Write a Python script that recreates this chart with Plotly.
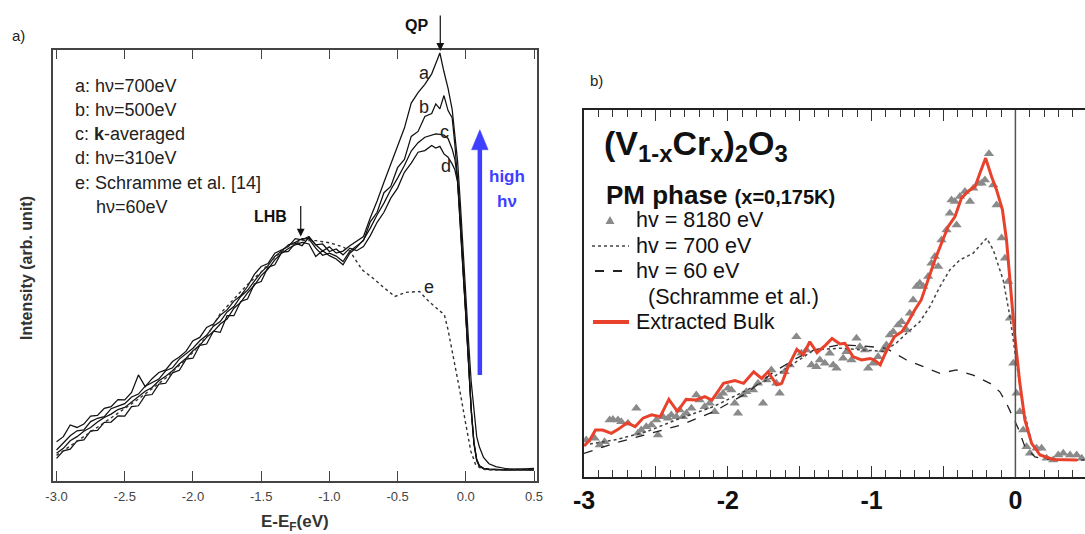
import plotly.graph_objects as go

W, H = 1085, 534

# ---------------- panel a) data ----------------
E_A = [-3.00, -2.95, -2.90, -2.85, -2.80, -2.75, -2.70, -2.65, -2.60, -2.55,
       -2.50, -2.45, -2.40, -2.35, -2.30, -2.25, -2.20, -2.15, -2.10, -2.05,
       -2.00, -1.95, -1.90, -1.85, -1.80, -1.75, -1.70, -1.65, -1.60, -1.55,
       -1.50, -1.45, -1.40, -1.35, -1.30, -1.25, -1.20, -1.15, -1.10, -1.05,
       -1.00, -0.95, -0.90, -0.85, -0.80,
       -0.75, -0.70, -0.65, -0.60, -0.55, -0.50, -0.45, -0.40, -0.35, -0.30,
       -0.25, -0.22, -0.19, -0.16, -0.13, -0.10, -0.08, -0.06, -0.04, -0.02,
       0.00, 0.02, 0.04, 0.06, 0.08, 0.10, 0.13, 0.17, 0.22, 0.30, 0.40, 0.50]

CURVE_A = [6.8, 8.0, 10.8, 10.2, 11.0, 12.9, 13.1, 14.8, 15.2, 16.9,
           16.8, 18.6, 22.8, 20.0, 21.9, 23.4, 24.0, 26.0, 27.1, 28.5,
           31.0, 31.8, 34.2, 35.0, 37.1, 38.4, 40.5, 41.8, 44.0, 46.9,
           48.8, 49.5, 52.0, 52.8, 53.6, 55.5, 55.2, 56.0, 54.0, 52.5,
           53.5, 52.0, 52.5, 53.8, 55.0,
           56.0, 60.5, 64.5, 69.0, 73.5, 77.5, 82.0, 88.0, 90.5, 92.5,
           95.0, 97.5, 100.0, 95.5, 91.5, 86.5, 81.0, 74.0, 64.0, 52.0,
           41.0, 31.0, 21.0, 13.5, 8.0, 5.5, 3.0, 1.5, 0.8, 0.3, 0.2, 0.4]

CURVE_B = [4.8, 6.6, 8.2, 9.4, 9.6, 11.6, 12.4, 12.8, 14.7, 15.3,
           15.9, 17.5, 18.2, 20.1, 21.0, 21.8, 23.8, 24.5, 26.6, 27.9,
           29.2, 31.0, 32.3, 34.5, 35.6, 37.9, 39.2, 41.6, 43.1, 45.3,
           47.4, 49.0, 51.2, 52.5, 54.0, 54.6, 55.5, 55.4, 53.2, 51.5,
           52.0, 51.3, 50.0, 52.5, 53.8,
           55.0, 59.5, 61.8, 66.5, 68.0, 72.5, 74.5, 80.0, 81.2, 84.8,
           85.5, 87.8, 86.6, 89.8, 86.2, 84.5, 78.0, 69.5, 60.0, 48.0,
           37.6, 25.5, 14.5, 6.5, 2.5, 1.0, 0.4, 0.2, 0.1, 0.0, 0.1, 0.0]

CURVE_C = [4.0, 5.2, 7.0, 8.0, 9.3, 10.2, 11.5, 12.6, 13.4, 14.5,
           15.0, 16.3, 17.4, 18.9, 19.8, 21.4, 22.5, 23.8, 25.4, 26.8,
           28.6, 29.9, 31.8, 33.2, 35.0, 36.2, 38.8, 40.2, 42.5, 44.3,
           46.6, 48.2, 50.4, 52.0, 53.1, 54.0, 54.6, 54.2, 51.2, 52.6,
           51.4, 50.6, 49.2, 52.0, 53.4,
           55.2, 58.0, 61.2, 64.0, 67.2, 70.0, 73.0, 76.5, 78.5, 79.8,
           80.3, 80.6, 80.5, 80.3, 79.5, 77.0, 74.5, 69.5, 60.0, 48.0,
           37.6, 25.5, 14.5, 6.5, 2.5, 1.0, 0.4, 0.2, 0.1, 0.0, 0.1, 0.0]

CURVE_D = [2.8, 4.6, 5.0, 7.0, 7.2, 9.4, 9.5, 11.4, 11.5, 13.0,
           12.9, 15.2, 15.4, 17.9, 18.1, 20.6, 20.8, 23.3, 23.9, 26.6,
           26.8, 29.9, 30.2, 33.3, 33.0, 37.0, 37.0, 40.4, 41.0, 44.6,
           45.2, 48.6, 49.2, 52.2, 52.4, 54.4, 53.8, 55.8, 54.0, 54.2,
           52.4, 53.0, 51.6, 53.2, 52.6,
           53.6, 56.2, 59.4, 61.8, 65.2, 67.6, 71.4, 73.6, 76.2, 76.6,
           77.8, 77.2, 77.6, 75.8, 75.0, 73.4, 72.0, 69.0, 59.5, 47.5,
           37.0, 25.0, 14.0, 6.2, 2.2, 0.8, 0.3, 0.1, 0.0, 0.0, 0.2, 0.0]

E_E = [-3.0, -2.8, -2.6, -2.4, -2.2, -2.0, -1.9, -1.8, -1.7, -1.6, -1.5, -1.4,
       -1.3, -1.2, -1.1, -1.0, -0.9, -0.85, -0.76, -0.68, -0.61, -0.52, -0.44,
       -0.34, -0.27, -0.2, -0.157, -0.13, -0.09, -0.04, 0.0, 0.037, 0.073,
       0.12, 0.2, 0.5]
CURVE_E = [3.5, 8.0, 12.5, 17.0, 22.0, 28.2, 32.0, 37.5, 41.0, 44.5, 47.5, 51.0,
           53.8, 55.0, 55.0, 54.5, 53.5, 52.5, 48.0, 46.0, 44.0, 41.6, 42.6,
           42.8, 40.4, 38.5, 37.2, 33.6, 27.2, 18.4, 11.0, 4.5, 1.2,
           0.2, 0.0, 0.0]

TICKS_A = [-3.0, -2.5, -2.0, -1.5, -1.0, -0.5, 0.0, 0.5]
TICKTEXT_A = ["-3.0", "-2.5", "-2.0", "-1.5", "-1.0", "-0.5", "0.0", "0.5"]
LEGEND_A = ["a: hν=700eV", "b: hν=500eV", "c: <b>k</b>-averaged", "d: hν=310eV",
            "e: Schramme et al. [14]"]

# ---------------- panel b) data ----------------
RED_E = [-3.00, -2.96, -2.92, -2.87, -2.81, -2.76, -2.70, -2.645, -2.59, -2.53,
         -2.47, -2.41, -2.35, -2.29, -2.22, -2.16, -2.11, -2.03, -1.95, -1.89,
         -1.82, -1.765, -1.72, -1.66, -1.625, -1.58, -1.52, -1.475, -1.43, -1.38,
         -1.32, -1.275, -1.22, -1.186, -1.13, -1.07, -1.01, -0.98, -0.94, -0.90,
         -0.84, -0.79, -0.745, -0.70, -0.655, -0.607, -0.56, -0.514, -0.468, -0.42,
         -0.375, -0.33, -0.28, -0.247, -0.207, -0.166, -0.131, -0.09, -0.062, -0.034,
         -0.004, 0.031, 0.066, 0.113, 0.171, 0.264, 0.43]
RED_V = [4.6, 6.6, 9.9, 9.9, 8.8, 10.2, 12.3, 11.0, 13.8, 14.9,
         14.3, 20.0, 16.0, 20.0, 19.8, 20.9, 19.8, 25.3, 26.2, 25.3,
         29.1, 26.9, 29.1, 24.8, 25.3, 30.8, 36.5, 34.7, 39.0, 35.4,
         37.9, 40.1, 38.3, 38.5, 34.1, 33.0, 33.5, 33.0, 31.4, 35.7,
         40.7, 42.3, 45.6, 49.5, 52.8, 59.4, 66.0, 71.5, 77.0, 80.3,
         86.4, 88.6, 90.2, 94.6, 99.6, 93.5, 89.1, 82.5, 72.6, 57.2,
         40.7, 25.3, 13.2, 5.5, 1.65, 0.2, 0.0]

DOT_E = [-3.00, -2.79, -2.56, -2.33, -2.10, -1.87, -1.68, -1.52, -1.40, -1.22,
         -1.08, -0.92, -0.83, -0.757, -0.665, -0.595, -0.525, -0.456, -0.386, -0.294,
         -0.2, -0.154, -0.085, -0.038, 0.008, 0.054, 0.113, 0.194, 0.30, 0.48]
DOT_V = [5.0, 6.6, 9.4, 13.8, 17.6, 23.1, 27.5, 32.5, 36.3, 36.9,
         36.3, 35.8, 38.5, 41.8, 45.6, 50.6, 57.2, 62.7, 66.0, 68.2,
         73.2, 69.3, 59.4, 47.3, 31.9, 17.6, 5.5, 0.9, 0.1, 0.0]

DASH_E = [-3.00, -2.79, -2.56, -2.33, -2.10, -1.87, -1.68, -1.52, -1.40, -1.22,
          -1.08, -0.90, -0.757, -0.642, -0.525, -0.41, -0.294, -0.177, -0.108, -0.062,
          -0.016, 0.019, 0.066, 0.136, 0.217, 0.48]
DASH_V = [2.2, 5.5, 8.5, 11.5, 15.9, 22.0, 29.1, 33.6, 36.3, 38.0,
          37.7, 36.9, 33.0, 30.8, 28.6, 29.7, 28.0, 25.3, 22.5, 18.7,
          14.3, 10.5, 4.4, 1.0, 0.3, 0.0]

TRI_E = [-2.984, -2.926, -2.891, -2.857, -2.822, -2.799, -2.764, -2.741, -2.694, -2.636,
         -2.625, -2.602, -2.567, -2.532, -2.497, -2.486, -2.451, -2.416, -2.393, -2.358,
         -2.335, -2.312, -2.288, -2.253, -2.219, -2.196, -2.161, -2.126, -2.091, -2.056,
         -2.033, -1.998, -1.975, -1.952, -1.929, -1.894, -1.871, -1.824, -1.790, -1.755,
         -1.731, -1.697, -1.662, -1.639, -1.604, -1.569, -1.523, -1.488, -1.453, -1.418,
         -1.384, -1.360, -1.325, -1.291, -1.267, -1.244,
         -1.198, -1.175, -1.140, -1.105, -1.082, -1.047, -1.024, -0.989, -0.955, -0.920,
         -0.897, -0.873, -0.850, -0.815, -0.792, -0.757, -0.734, -0.711, -0.687, -0.665,
         -0.641, -0.607, -0.584, -0.560, -0.537, -0.514, -0.479, -0.456, -0.444, -0.421,
         -0.409, -0.386, -0.351, -0.316, -0.293, -0.258, -0.235, -0.212, -0.184, -0.154,
         -0.131, -0.096, -0.073, -0.050, -0.038, -0.015, 0.008, 0.031, 0.054, 0.077,
         0.101, 0.147, 0.182, 0.217, 0.263, 0.298, 0.333, 0.380, 0.426, 0.461]
TRI_V = [6.6, 7.2, 4.95, 6.05, 13.2, 13.4, 13.2, 12.65, 12.1, 17.05,
         8.8, 9.9, 11.0, 11.55, 13.2, 8.25, 14.3, 13.75, 14.85, 14.3,
         16.5, 14.3, 15.4, 17.05, 21.45, 19.8, 17.6, 18.7, 15.95, 20.9,
         22.0, 23.65, 23.1, 18.7, 15.4, 21.45, 22.55, 23.1, 25.3, 18.7,
         26.4, 29.7, 25.3, 22.0, 29.15, 31.35, 40.7, 35.2, 36.3, 31.35,
         30.8, 33.0, 31.9, 35.2, 31.35, 30.25,
         33.55, 35.75, 33.0, 40.15, 37.4, 36.3, 30.25, 31.9, 34.1, 36.3,
         37.95, 41.25, 42.35, 44.55, 45.65, 42.9, 48.4, 52.8, 57.2, 58.3,
         57.2, 60.5, 64.9, 67.1, 63.8, 72.6, 75.9, 81.4, 85.8, 85.25,
         77.55, 86.9, 88.55, 85.25, 89.65, 91.3, 91.3, 92.4, 101.0, 90.75,
         84.15, 73.2, 66.55, 58.85, 46.75, 31.9, 22.0, 15.95, 9.9, 4.4,
         2.2, 3.85, 3.85, 0.55, 0.0, 1.65, 2.2, 1.65, 1.65, 0.55]

TICKS_B = [-3.0, -2.5, -2.0, -1.5, -1.0, -0.5, 0.0]
TICKTEXT_B = ["-3", "", "-2", "", "-1", "", "0"]
LEGEND_B = ["hv = 8180 eV", "hv = 700 eV", "hv = 60 eV", "(Schramme et al.)", "Extracted Bulk"]

FONT = "Liberation Sans, Arial, Helvetica, sans-serif"
RED = "#e8412c"
BLUE = "#3f3fff"


def pxx(px):
    return px / W


def pxy(py):
    return 1 - py / H


def ptext(text, px, py, size, color="#222", xanchor="center", yanchor="middle", **kw):
    return dict(text=text, x=pxx(px), y=pxy(py), xref="paper", yref="paper",
                xanchor=xanchor, yanchor=yanchor, showarrow=False,
                font=dict(size=size, color=color), **kw)


fig = go.Figure()

# panel a traces
for name, ys in [("a", CURVE_A), ("b", CURVE_B), ("c", CURVE_C), ("d", CURVE_D)]:
    fig.add_trace(go.Scatter(x=E_A, y=ys, mode="lines", name=name,
                             line=dict(color="#111111", width=1.25),
                             xaxis="x", yaxis="y", showlegend=False))
fig.add_trace(go.Scatter(x=E_E, y=CURVE_E, mode="lines", name="e",
                         line=dict(color="#333333", width=1.4, dash="dot"),
                         xaxis="x", yaxis="y", showlegend=False))

# panel b traces
fig.add_trace(go.Scatter(x=TRI_E, y=TRI_V, mode="markers", name=LEGEND_B[0],
                         marker=dict(symbol="triangle-up", size=9, color="#8a8a8a"),
                         xaxis="x2", yaxis="y2", showlegend=False))
fig.add_trace(go.Scatter(x=DASH_E, y=DASH_V, mode="lines", name=LEGEND_B[2],
                         line=dict(color="#222222", width=1.3, dash="dash"),
                         xaxis="x2", yaxis="y2", showlegend=False))
fig.add_trace(go.Scatter(x=DOT_E, y=DOT_V, mode="lines", name=LEGEND_B[1],
                         line=dict(color="#444444", width=1.5, dash="dot"),
                         xaxis="x2", yaxis="y2", showlegend=False))
fig.add_trace(go.Scatter(x=RED_E, y=RED_V, mode="lines", name=LEGEND_B[4],
                         line=dict(color=RED, width=3),
                         xaxis="x2", yaxis="y2", showlegend=False))

ann = []
shapes = []

# ---- panel a annotations ----
ann.append(ptext("a)", 10, 36, 15, xanchor="left"))
leg_y = [86, 110, 134, 158, 182.5]
for t, yy in zip(LEGEND_A, leg_y):
    ann.append(ptext(t, 73, yy, 18, xanchor="left"))
ann.append(ptext("hν=60eV", 94, 206.6, 18, xanchor="left"))
for lab, xx, yy in [("a", -0.304, 95.1), ("b", -0.304, 87.1), ("c", -0.158, 81.1),
                    ("d", -0.145, 72.9), ("e", -0.268, 43.8)]:
    ann.append(dict(text=lab, x=xx, y=yy, xref="x", yref="y", showarrow=False,
                    xanchor="center", yanchor="middle",
                    font=dict(size=18, color="#222")))
# QP
ann.append(ptext("<b>QP</b>", 416.7, 25.8, 16, color="#111"))
ann.append(dict(text="", x=-0.187, y=100.5, xref="x", yref="y", ax=0, ay=-37,
                showarrow=True, arrowhead=2, arrowsize=1.3, arrowwidth=1.2, arrowcolor="#111"))
# LHB
ann.append(ptext("<b>LHB</b>", 270.3, 216.3, 16, color="#111"))
ann.append(dict(text="", x=-1.21, y=56.0, xref="x", yref="y", ax=0, ay=-32,
                showarrow=True, arrowhead=2, arrowsize=1.3, arrowwidth=1.2, arrowcolor="#111"))
# high hv
ann.append(ptext("<b>high</b>", 506.7, 176.7, 17, color=BLUE))
ann.append(ptext("<b>hν</b>", 506.7, 201.7, 17, color=BLUE))
shapes.append(dict(type="line", xref="x", yref="y", x0=0.103, x1=0.103, y0=22.8, y1=77.5,
                   line=dict(color=BLUE, width=4.5)))
shapes.append(dict(type="path", xref="x", yref="y",
                   path="M 0.042,76.8 L 0.164,76.8 L 0.103,81.6 Z",
                   fillcolor=BLUE, line=dict(color=BLUE, width=0.5)))
# axis titles a
ann.append(ptext("<b>E-E<sub>F</sub>(eV)</b>", 295, 510, 17, color="#333", yanchor="top"))
ann.append(ptext("<b>Intensity (arb. unit)</b>", 26, 268, 16, color="#333", textangle=-90))

# ---- panel b annotations ----
ann.append(ptext("b)", 588, 80, 15, xanchor="left"))
ann.append(ptext("<b>(V<sub>1-x</sub>Cr<sub>x</sub>)<sub>2</sub>O<sub>3</sub></b>",
                 602, 122, 34, color="#111", xanchor="left", yanchor="top"))
ann.append(ptext("<b>PM phase <span style='font-size:20px'>(x=0,175K)</span></b>",
                 604, 195, 26, color="#111", xanchor="left"))
leg_b_y = [220, 246, 271, 296.5, 322]
leg_b_x = [634, 634, 634, 646, 634]
for t, xx, yy in zip(LEGEND_B, leg_b_x, leg_b_y):
    ann.append(ptext(t, xx, yy, 21.5, color="#111", xanchor="left"))
# legend symbols
shapes.append(dict(type="path", xref="paper", yref="paper",
                   path=f"M {pxx(605.5)},{pxy(224)} L {pxx(614.5)},{pxy(224)} L {pxx(610)},{pxy(216)} Z",
                   fillcolor="#8a8a8a", line=dict(width=0)))
shapes.append(dict(type="line", xref="paper", yref="paper", x0=pxx(592), x1=pxx(629),
                   y0=pxy(246), y1=pxy(246), line=dict(color="#444", width=1.5, dash="dot")))
shapes.append(dict(type="line", xref="paper", yref="paper", x0=pxx(595), x1=pxx(627),
                   y0=pxy(271), y1=pxy(271), line=dict(color="#222", width=2, dash="dash")))
shapes.append(dict(type="line", xref="paper", yref="paper", x0=pxx(593), x1=pxx(629),
                   y0=pxy(322), y1=pxy(322), line=dict(color=RED, width=4)))
# zero line
shapes.append(dict(type="line", xref="x2", yref="y2 domain", x0=0, x1=0, y0=0, y1=1,
                   line=dict(color="#555", width=1.5)))

fig.update_layout(
    width=W, height=H, autosize=False,
    margin=dict(l=0, r=0, t=0, b=0, autoexpand=False),
    paper_bgcolor="white", plot_bgcolor="white",
    font=dict(family=FONT),
    showlegend=False,
    annotations=ann, shapes=shapes,
    xaxis=dict(domain=[pxx(53), pxx(537)], range=[-3.026, 0.522], anchor="y",
               showline=True, linecolor="#444", linewidth=1.6, mirror="ticks",
               ticks="inside", ticklen=10, tickwidth=1.3, tickcolor="#444",
               tickvals=TICKS_A, ticktext=TICKTEXT_A, ticklabelstandoff=3,
               tickfont=dict(size=13, color="#444"),
               showgrid=False, zeroline=False),
    yaxis=dict(domain=[pxy(481), pxy(49.5)], range=[-2.64, 100.84], anchor="x",
               showline=True, linecolor="#444", linewidth=1.6, mirror=True,
               ticks="", showticklabels=False, showgrid=False, zeroline=False),
    xaxis2=dict(domain=[pxx(584), 1.0], range=[-3.0, 0.484], anchor="y2",
                showline=True, linecolor="#222", linewidth=1.6, mirror="ticks",
                ticks="inside", ticklen=11, tickwidth=1.3, tickcolor="#333",
                tickvals=TICKS_B, ticktext=TICKTEXT_B, ticklabelstandoff=0,
                tickfont=dict(size=25, color="#111", weight="bold"),
                minor=dict(ticks="inside", ticklen=7, tickwidth=1.2, tickcolor="#333",
                           tickmode="linear", tick0=0, dtick=0.1, showgrid=False),
                showgrid=False, zeroline=False),
    yaxis2=dict(domain=[pxy(476.8), pxy(110.2)], range=[-5.54, 115.4], anchor="x2",
                showline=True, linecolor="#222", linewidth=1.6, mirror=False,
                ticks="", showticklabels=False, showgrid=False, zeroline=False),
)

fig.write_html("out.html")
